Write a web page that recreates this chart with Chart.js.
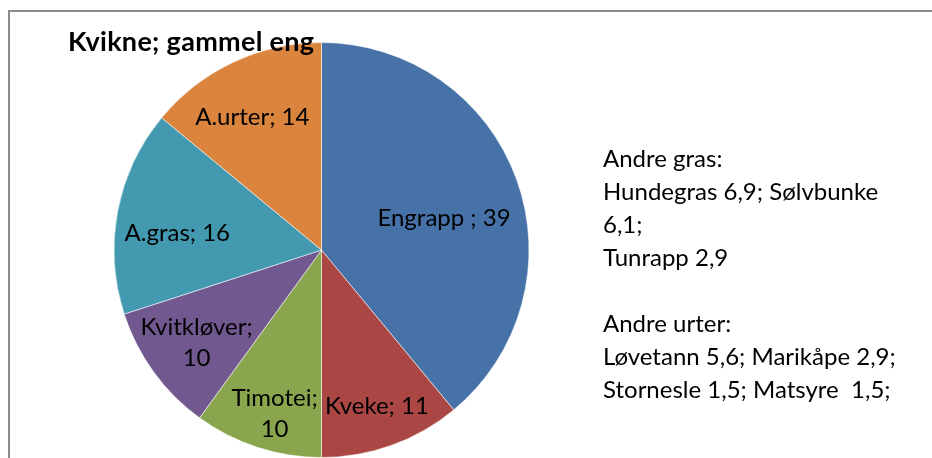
<!DOCTYPE html>
<html>
<head>
<meta charset="utf-8">
<script src="https://cdn.jsdelivr.net/npm/chart.js@4/dist/chart.umd.min.js"></script>
<style>
  html, body { margin: 0; padding: 0; background: #fff; }
  #wrap { position: relative; width: 932px; height: 458px; overflow: hidden; font-family: Lato, "Open Sans", sans-serif; }
  #frame { position: absolute; left: 8px; top: 10px; width: 960px; height: 480px; border-left: 2px solid #8c8c8c; border-top: 2px solid #8c8c8c; box-sizing: border-box; }
  canvas { position: absolute; left: 0; top: 0; }
  #title { position: absolute; left: 68px; top: 27px; font-size: 27px; line-height: 27px; font-weight: bold; color: #000; letter-spacing: 0.3px; white-space: nowrap; }
  #note { position: absolute; left: 603px; top: 141px; font-size: 24px; line-height: 33px; color: #000; white-space: pre; }
</style>
</head>
<body>
<div id="wrap">
  <canvas id="c" width="932" height="458"></canvas>
  <div id="frame"></div>
  <div id="title"></div>
  <div id="note"></div>
</div>
<script>
// ---- data ----
const chartTitle = "Kvikne; gammel eng";
const categories = ["Engrapp", "Kveke", "Timotei", "Kvitkløver", "A.gras", "A.urter"];
const values = [39, 11, 10, 10, 16, 14];
const labelTexts = [["Engrapp ; 39"], ["Kveke; 11"], ["Timotei;", "10"], ["Kvitkløver;", "10"], ["A.gras; 16"], ["A.urter; 14"]];
const noteLines = [
  "Andre gras:",
  "Hundegras 6,9; Sølvbunke",
  "6,1;",
  "Tunrapp 2,9",
  "",
  "Andre urter:",
  "Løvetann 5,6; Marikåpe 2,9;",
  "Stornesle 1,5; Matsyre  1,5;"
];
// ---- styles ----
const colors = ["#4672A8", "#AA4744", "#89A54E", "#71598F", "#4299B0", "#DB843D"];
const labelFrac = [0.61, 0.80, 0.82, 0.75, 0.70, 0.72];
const labelTurn = [5.3, 0.3, -2, -0.6, -4, -2.4];

document.getElementById('title').textContent = chartTitle;
const note = document.getElementById('note');
noteLines.forEach(t => { const d = document.createElement('div'); d.textContent = t || '\u00a0'; note.appendChild(d); });

const sliceLabels = {
  id: 'sliceLabels',
  afterDatasetsDraw(chart) {
    const ctx = chart.ctx;
    const meta = chart.getDatasetMeta(0);
    ctx.save();
    ctx.font = '24px Lato, "Open Sans", sans-serif';
    ctx.fillStyle = '#000';
    ctx.textAlign = 'center';
    ctx.textBaseline = 'middle';
    meta.data.forEach((arc, i) => {
      const p = arc.getProps(['x', 'y', 'startAngle', 'endAngle', 'outerRadius'], true);
      const a = (p.startAngle + p.endAngle) / 2 + labelTurn[i] * Math.PI / 180;
      const r = p.outerRadius * labelFrac[i];
      const cx = p.x + Math.cos(a) * r;
      const cy = p.y + Math.sin(a) * r;
      const lines = labelTexts[i];
      const lh = 31;
      lines.forEach((t, k) => {
        ctx.fillText(t, cx, cy + (k - (lines.length - 1) / 2) * lh);
      });
    });
    ctx.restore();
  }
};

new Chart(document.getElementById('c'), {
  type: 'pie',
  data: {
    labels: categories,
    datasets: [{
      data: values,
      backgroundColor: colors,
      borderColor: 'rgba(255,255,255,0.55)',
      borderWidth: 1,
      hoverOffset: 0
    }]
  },
  options: {
    responsive: false,
    animation: false,
    layout: { padding: { left: 113, top: 42, right: 402, bottom: 0 } },
    plugins: { legend: { display: false }, tooltip: { enabled: false }, title: { display: false } }
  },
  plugins: [sliceLabels]
});
</script>
</body>
</html>
